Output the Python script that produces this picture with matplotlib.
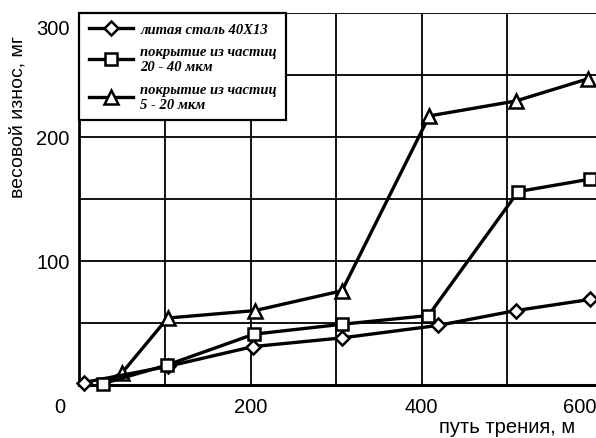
import matplotlib
matplotlib.use("Agg")
import matplotlib.pyplot as plt
import matplotlib.transforms as mtransforms

# data
steel_x = [5, 103, 203, 307, 419, 510, 597]
steel_y = [2, 15, 31, 38, 48, 60, 69]
coat2040_x = [27, 102, 204, 307, 408, 513, 597]
coat2040_y = [1, 16, 41, 49, 56, 156, 166]
coat520_x = [27, 50, 103, 205, 307, 409, 510, 595]
coat520_y = [1, 10, 54, 60, 76, 217, 229, 247]

labels = ["литая сталь 40Х13",
          "покрытие из частиц\n20 - 40 мкм",
          "покрытие из частиц\n5 - 20 мкм"]
xticks = [0, 200, 400, 600]
yticks = [100, 200, 300]

W, H = 596, 439
fig = plt.figure(figsize=(W / 100, H / 100), dpi=100)
L, R, T, B = 79.5, 596, 14, 386
ax = fig.add_axes([L / W, 1 - B / H, (R - L) / W, (B - T) / H])

ax.set_xlim(0, 604)
ax.set_ylim(0, 300)

lw = 2.4
mk = dict(color="black", lw=lw, markerfacecolor="white", markeredgecolor="black",
          markeredgewidth=1.8, zorder=3, clip_on=False)
ax.plot(coat520_x, coat520_y, marker="^", markersize=9.5, label=labels[2],
        markevery=list(range(1, len(coat520_x))), **mk)
ax.plot(steel_x, steel_y, marker="D", markersize=7, label=labels[0], **mk)
ax.plot(coat2040_x, coat2040_y, marker="s", markersize=9, label=labels[1], **mk)

# grid
for gx in [100, 200, 300, 400, 500]:
    ax.axvline(gx, color="black", lw=1.3, zorder=1)
for gy in [50, 100, 150, 200, 250, 300]:
    ax.axhline(gy, color="black", lw=1.3, zorder=1)

ax.set_xticks(xticks)
ax.set_xticklabels([str(v) for v in xticks])
ax.set_yticks(yticks)
ax.set_yticklabels([str(v) for v in yticks])
ax.tick_params(which="major", length=0, labelsize=14.5, colors="black")
ax.tick_params(axis="x", pad=9)
ax.tick_params(axis="y", pad=7)
for t in ax.get_xticklabels() + ax.get_yticklabels():
    t.set_fontfamily("Liberation Sans")

# shift some labels like in the reference
xl = ax.get_xticklabels()
xl[0].set_transform(xl[0].get_transform() + mtransforms.ScaledTranslation(-20 / 100, 0, fig.dpi_scale_trans))
xl[-1].set_transform(xl[-1].get_transform() + mtransforms.ScaledTranslation(-13 / 100, 0, fig.dpi_scale_trans))
yl = ax.get_yticklabels()
yl[-1].set_transform(yl[-1].get_transform() + mtransforms.ScaledTranslation(0, -14 / 100, fig.dpi_scale_trans))

for s in ["top", "right"]:
    ax.spines[s].set_visible(False)
ax.spines["left"].set_linewidth(2)
ax.spines["bottom"].set_linewidth(2.2)

fig.text(507 / W, 1 - 428 / H, "путь трения, м", ha="center", va="center",
         fontsize=14.5, family="Liberation Sans")
fig.text(18 / W, 1 - 117 / H, "весовой износ, мг", ha="center", va="center",
         rotation=90, fontsize=14, family="Liberation Sans")

handles, labs = ax.get_legend_handles_labels()
order = [1, 2, 0]
leg = ax.legend([handles[i] for i in order], [labs[i] for i in order],
                loc="upper left", bbox_to_anchor=(0, 1), borderaxespad=0,
                fancybox=False, framealpha=1, edgecolor="black",
                prop=dict(family="Liberation Serif", weight="bold", style="italic", size=10.5),
                handlelength=3.0, handletextpad=0.5, labelspacing=0.65,
                borderpad=0.65)
leg.get_frame().set_linewidth(1.6)
for t in leg.get_texts():
    t.set_linespacing(1.2)
leg.set_zorder(5)

fig.savefig("out.png", dpi=100)
